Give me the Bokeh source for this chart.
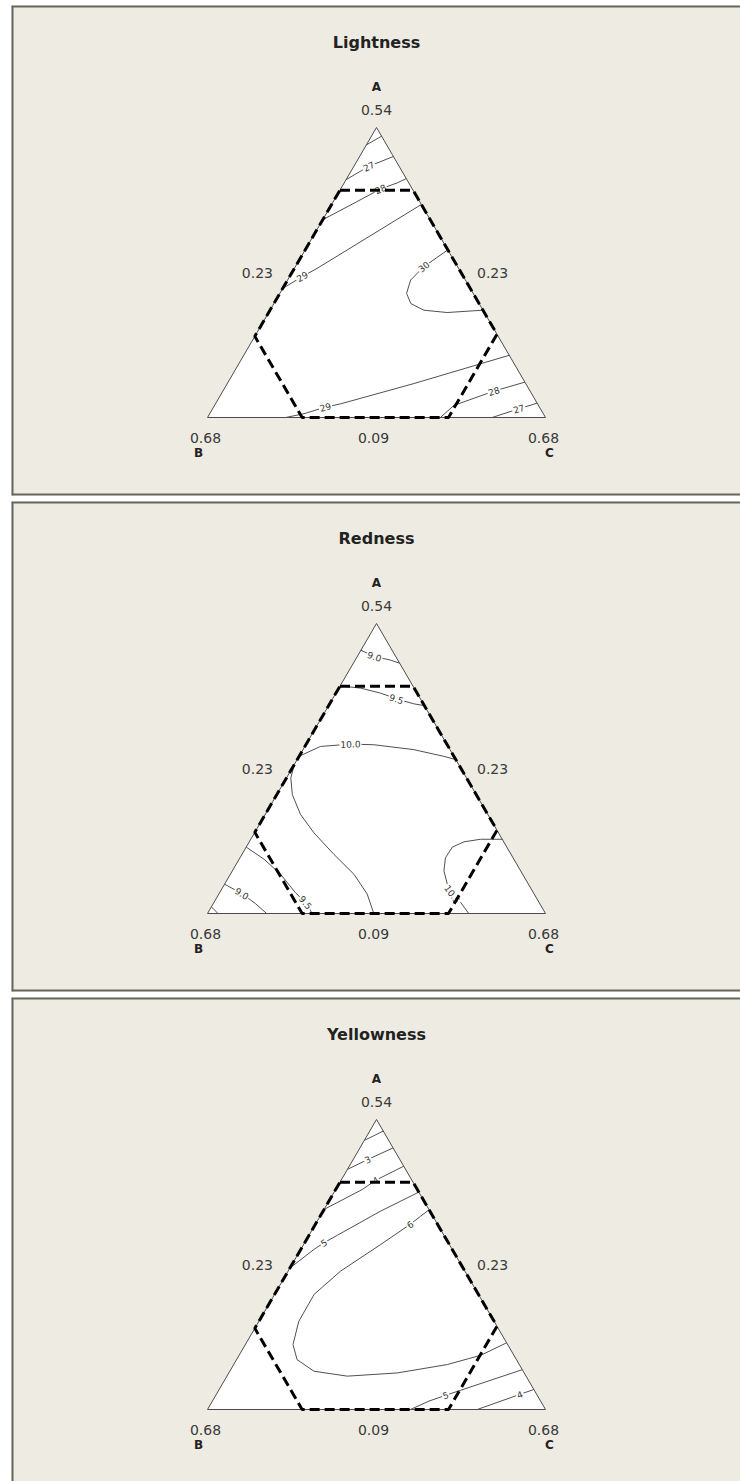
import math

from bokeh.core.properties import value
from bokeh.embed import file_html
from bokeh.layouts import column
from bokeh.models import Range1d, Span
from bokeh.plotting import figure
from bokeh.resources import INLINE

# ---------------------------------------------------------------------------
# Mixture design: three pseudo-components, A at the apex, B left, C right
# ---------------------------------------------------------------------------
titles = ["Lightness", "Redness", "Yellowness"]

vertex_names = ["A", "B", "C"]
vertex_upper = ["0.54", "0.68", "0.68"]      # upper bounds printed at vertices
edge_mid_labels = ["0.23", "0.23", "0.09"]   # left edge, right edge, base

# Constrained experimental region (corners in pseudo-component proportions)
region_A = [0.784, 0.784, 0.287, 0.000, 0.000, 0.280]
region_C = [0.000, 0.216, 0.713, 0.713, 0.280, 0.000]

# Contour lines: (level text, A proportions, C proportions, label index)
lightness_contours = [
    ("26", [0.94, 0.97], [0.00, 0.03], None),
    ("27", [0.82, 0.866, 0.90], [0.00, 0.044, 0.10], 1),
    ("28", [0.682, 0.739, 0.788, 0.809, 0.824], [0.00, 0.064, 0.118, 0.157, 0.176], 2),
    ("29", [0.445, 0.486, 0.514, 0.734], [0.00, 0.037, 0.067, 0.265], 1),
    ("30", [0.578, 0.520, 0.474, 0.428, 0.393, 0.370, 0.362, 0.370],
           [0.422, 0.380, 0.364, 0.375, 0.405, 0.455, 0.528, 0.630], 1),
    ("29", [0.000, 0.013, 0.036, 0.047, 0.117, 0.2145],
           [0.231, 0.279, 0.331, 0.370, 0.552, 0.7855], 2),
    ("28", [0.000, 0.0415, 0.091, 0.122], [0.689, 0.708, 0.802, 0.878], 2),
    ("27", [0.000, 0.030, 0.0495], [0.842, 0.906, 0.9505], 1),
]

redness_contours = [
    ("9.0", [0.908, 0.886, 0.874, 0.863], [0.000, 0.051, 0.104, 0.137], 1),
    ("9.5", [0.785, 0.777, 0.760, 0.740, 0.723, 0.717],
            [0.000, 0.065, 0.132, 0.189, 0.249, 0.283], 3),
    ("10.0", [0.542, 0.576, 0.584, 0.582, 0.565, 0.542, 0.531],
             [0.000, 0.046, 0.131, 0.201, 0.328, 0.428, 0.469], 2),
    ("10.0", [0.513, 0.467, 0.410, 0.342, 0.278, 0.204, 0.135, 0.067, 0.000],
             [0.000, 0.013, 0.046, 0.104, 0.176, 0.272, 0.366, 0.439, 0.492], None),
    ("10.5", [0.256, 0.256, 0.247, 0.229, 0.192, 0.147, 0.101, 0.067, 0.038, 0.000],
             [0.744, 0.680, 0.635, 0.610, 0.608, 0.626, 0.659, 0.691, 0.730, 0.773], 7),
    ("9.0", [0.101, 0.069, 0.034, 0.000], [0.000, 0.067, 0.125, 0.175], 1),
    ("8.5", [0.023, 0.000], [0.000, 0.031], None),
    ("9.5", [0.229, 0.187, 0.135, 0.072, 0.038, 0.000],
            [0.000, 0.074, 0.149, 0.224, 0.271, 0.310], 4),
]

yellowness_contours = [
    ("2", [0.928, 0.960], [0.000, 0.040], None),
    ("3", [0.828, 0.862, 0.902], [0.000, 0.043, 0.098], 1),
    ("4", [0.690, 0.759, 0.790, 0.839], [0.000, 0.079, 0.102, 0.161], 2),
    ("5", [0.488, 0.552, 0.575, 0.601, 0.684, 0.741, 0.750],
          [0.000, 0.039, 0.057, 0.084, 0.170, 0.240, 0.250], 2),
    ("6", [0.689, 0.666, 0.638, 0.569, 0.477, 0.397, 0.304, 0.224, 0.172, 0.132,
           0.115, 0.126, 0.155, 0.187, 0.230],
          [0.311, 0.297, 0.280, 0.228, 0.155, 0.117, 0.118, 0.141, 0.179, 0.249,
           0.356, 0.498, 0.632, 0.715, 0.770], 2),
    ("5", [0.000, 0.029, 0.049, 0.137], [0.600, 0.641, 0.680, 0.862], 2),
    ("4", [0.000, 0.052, 0.069], [0.798, 0.898, 0.931], 1),
]

all_contours = [lightness_contours, redness_contours, yellowness_contours]

# ---------------------------------------------------------------------------
# Geometry of each panel (screen pixels)
# ---------------------------------------------------------------------------
PX_X = 338.0        # pixels per unit along the base
PX_Y = 290.0        # pixels from base to apex
BASE_LEFT = 196.0   # left vertex, measured from the left of the frame
APEX_TOP = 122.0    # apex, measured from the top of the frame
FRAME_W = 729

PANEL_BG = "#EEEBE2"
PANEL_EDGE = "#66665E"
EDGE = "#4C4C4C"
INK = "#3A3A3A"
FONT = value("DejaVu Sans")


def to_xy(a_vals, c_vals):
    """Ternary (A, C) proportions to plane coordinates, B implied."""
    xs = [c + a / 2.0 for a, c in zip(a_vals, c_vals)]
    ys = list(a_vals)
    return xs, ys


def make_panel(title, contours, height, border_bottom, closed_bottom):
    frame_h = height - 5 - border_bottom
    x0 = -BASE_LEFT / PX_X
    x1 = x0 + FRAME_W / PX_X
    y1 = 1.0 + APEX_TOP / PX_Y
    y0 = y1 - frame_h / PX_Y

    p = figure(width=740, height=height,
               x_range=Range1d(x0, x1), y_range=Range1d(y0, y1),
               x_axis_location=None, y_axis_location=None,
               output_backend="svg", toolbar_location=None,
               min_border_left=11, min_border_right=0,
               min_border_top=5, min_border_bottom=border_bottom)
    p.grid.visible = False
    p.background_fill_color = PANEL_BG
    p.border_fill_color = "white"
    p.outline_line_color = None

    # panel frame: left, top and (where visible) bottom edges;
    # half of each line falls outside the frame and is clipped
    p.add_layout(Span(location=x0, dimension="height",
                      line_color=PANEL_EDGE, line_width=4))
    p.add_layout(Span(location=y1, dimension="width",
                      line_color=PANEL_EDGE, line_width=4))
    if closed_bottom:
        p.add_layout(Span(location=y0, dimension="width",
                          line_color=PANEL_EDGE, line_width=4))

    # simplex
    tri_x, tri_y = to_xy([1.0, 0.0, 0.0], [0.0, 0.0, 1.0])
    p.patch(tri_x, tri_y, fill_color="white", line_color=EDGE, line_width=1)

    # contour lines with inline level labels
    for level, a_vals, c_vals, idx in contours:
        xs, ys = to_xy(a_vals, c_vals)
        p.line(xs, ys, line_color="#505050", line_width=1)
        if idx is not None:
            i0 = max(idx - 1, 0)
            i1 = min(idx + 1, len(xs) - 1)
            ang = math.atan2((ys[i1] - ys[i0]) * PX_Y, (xs[i1] - xs[i0]) * PX_X)
            if ang > math.pi / 2:
                ang -= math.pi
            elif ang < -math.pi / 2:
                ang += math.pi
            p.text([xs[idx]], [ys[idx]], text=[level], angle=ang,
                   text_align="center", text_baseline="middle",
                   text_font=FONT, text_font_size="9px", text_color="#333333",
                   background_fill_color="white", padding=1)

    # constrained region
    rx, ry = to_xy(region_A + region_A[:1], region_C + region_C[:1])
    p.line(rx, ry, line_color="black", line_width=3, line_dash="10 5")

    # title and vertex annotations
    p.text([0.5], [1.0], text=[title], y_offset=-85,
           text_align="center", text_baseline="middle",
           text_font=FONT, text_font_size="16px", text_font_style="bold",
           text_color="#222222")
    p.text([0.5], [1.0], text=[vertex_names[0]], y_offset=-41,
           text_align="center", text_baseline="middle",
           text_font=FONT, text_font_size="12px", text_font_style="bold",
           text_color="#222222")
    p.text([0.5], [1.0], text=[vertex_upper[0]], y_offset=-18,
           text_align="center", text_baseline="middle",
           text_font=FONT, text_font_size="14px", text_color=INK)

    p.text([0.25], [0.5], text=[edge_mid_labels[0]], x_offset=-19,
           text_align="right", text_baseline="middle",
           text_font=FONT, text_font_size="14px", text_color=INK)
    p.text([0.75], [0.5], text=[edge_mid_labels[1]], x_offset=16,
           text_align="left", text_baseline="middle",
           text_font=FONT, text_font_size="14px", text_color=INK)
    p.text([0.5], [0.0], text=[edge_mid_labels[2]], x_offset=-3, y_offset=20,
           text_align="center", text_baseline="middle",
           text_font=FONT, text_font_size="14px", text_color=INK)

    p.text([0.0], [0.0], text=[vertex_upper[1]], x_offset=-2, y_offset=20,
           text_align="center", text_baseline="middle",
           text_font=FONT, text_font_size="14px", text_color=INK)
    p.text([0.0], [0.0], text=[vertex_names[1]], x_offset=-9, y_offset=35,
           text_align="center", text_baseline="middle",
           text_font=FONT, text_font_size="12px", text_font_style="bold",
           text_color="#222222")
    p.text([1.0], [0.0], text=[vertex_upper[2]], x_offset=-2, y_offset=20,
           text_align="center", text_baseline="middle",
           text_font=FONT, text_font_size="14px", text_color=INK)
    p.text([1.0], [0.0], text=[vertex_names[2]], x_offset=4, y_offset=35,
           text_align="center", text_baseline="middle",
           text_font=FONT, text_font_size="12px", text_font_style="bold",
           text_color="#222222")
    return p


heights = [496, 496, 489]
bottoms = [1, 1, 0]
closed = [True, True, False]
panels = [make_panel(t, c, h, b, cl)
          for t, c, h, b, cl in zip(titles, all_contours, heights, bottoms, closed)]

layout = column(*panels, spacing=0)
open("out.html", "w").write(file_html(layout, INLINE))
